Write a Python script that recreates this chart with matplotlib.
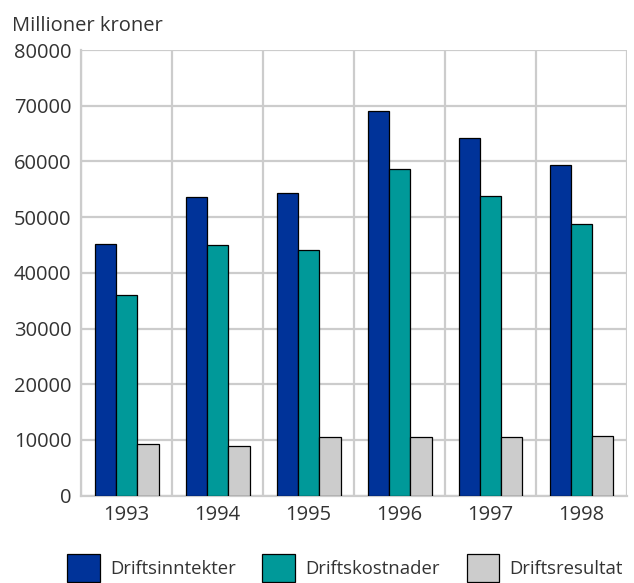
import matplotlib
matplotlib.use("Agg")
import matplotlib.pyplot as plt
import numpy as np

plt.rcParams['font.family'] = ['Open Sans', 'DejaVu Sans']

years = ['1993', '1994', '1995', '1996', '1997', '1998']
inntekter = [45100, 53700, 54400, 69000, 64200, 59400]
kostnader = [36000, 45000, 44100, 58600, 53800, 48700]
resultat = [9250, 8850, 10450, 10500, 10500, 10750]
series_names = ['Driftsinntekter', 'Driftskostnader', 'Driftsresultat']
colors = ['#003399', '#009999', '#cccccc']

text_col = '#333333'
grid_col = '#cccccc'

fig = plt.figure(figsize=(6.34, 5.83), dpi=100)
ax = fig.add_axes([0.128, 0.150, 0.861, 0.764])

x = np.arange(len(years))
w = 0.234
for i, (vals, name, c) in enumerate(zip([inntekter, kostnader, resultat], series_names, colors)):
    ax.bar(x + (i - 1) * w, vals, w, color=c, edgecolor='black', linewidth=0.9,
           label=name, zorder=3)

ax.set_xlim(-0.5, len(years) - 0.5)
ax.set_ylim(0, 80000)
ax.set_yticks(range(0, 80001, 10000))
ax.set_xticks(x)
ax.set_xticklabels(years)

# vertical grid lines between the groups
ax.set_xticks(np.arange(-0.5, len(years) + 0.5, 1), minor=True)
ax.grid(True, which='minor', axis='x', color=grid_col, linewidth=1.6, zorder=0)
ax.grid(True, which='major', axis='y', color=grid_col, linewidth=1.6, zorder=0)
ax.tick_params(which='both', length=0, labelsize=14.5, labelcolor=text_col)
ax.tick_params(axis='x', pad=7)
ax.tick_params(axis='y', pad=7)

for s in ['top', 'right']:
    ax.spines[s].set_visible(False)
for s in ['left', 'bottom']:
    ax.spines[s].set_color(grid_col)
    ax.spines[s].set_linewidth(1.6)

fig.text(12 / 634, 1 - 31 / 583, 'Millioner kroner', fontsize=14.5, color=text_col,
         va='baseline')

fig.legend(loc='center left', bbox_to_anchor=(67 / 634, 15 / 583), ncol=3, frameon=False,
           fontsize=13.3, handlelength=1.78, handleheight=2.0, columnspacing=1.45,
           handletextpad=0.54, borderpad=0, borderaxespad=0, labelcolor=text_col)

fig.savefig('out.png', dpi=100)
